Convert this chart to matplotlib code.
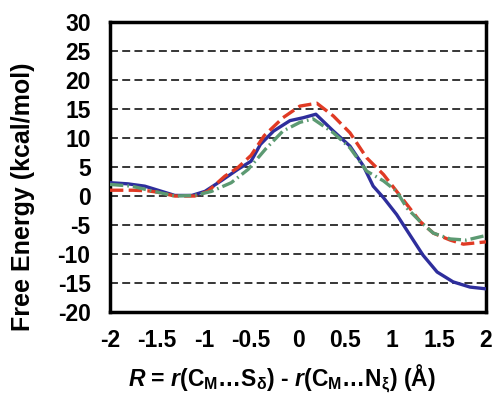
import numpy as np
import matplotlib
matplotlib.use("Agg")
import matplotlib.pyplot as plt

plt.rcParams['font.family'] = ['Liberation Sans', 'DejaVu Sans']
plt.rcParams['mathtext.fontset'] = 'custom'
plt.rcParams['mathtext.rm'] = 'Liberation Sans:bold'
plt.rcParams['mathtext.bf'] = 'Liberation Sans:bold'
plt.rcParams['mathtext.it'] = 'Liberation Sans:bold:italic'
plt.rcParams['axes.unicode_minus'] = False

# blue solid curve
x_blue = [-2, -1.81, -1.63, -1.45, -1.31, -1.13, -0.99, -0.82, -0.64, -0.5, -0.4, -0.26, -0.085, 0.056, 0.19,
          0.376, 0.553, 0.695, 0.8, 0.91, 1.05, 1.19, 1.33, 1.48, 1.65, 1.83, 2]
y_blue = [2.3, 2.1, 1.7, 0.8, 0.1, 0.1, 0.8, 2.6, 4.6, 6.0, 8.9, 11.2, 13.0, 13.5, 14.1,
          11.2, 8.6, 5.2, 1.7, -0.3, -3.2, -6.7, -10.2, -13.1, -14.8, -15.7, -16.0]

# red dashed curve
x_red = [-2, -1.76, -1.6, -1.49, -1.31, -1.1, -0.96, -0.78, -0.64, -0.5, -0.36, -0.16, 0.02, 0.2,
         0.376, 0.553, 0.73, 0.91, 1.05, 1.16, 1.3, 1.44, 1.62, 1.76, 2]
y_red = [1.0, 1.0, 0.9, 0.65, 0.0, 0.0, 0.8, 3.4, 4.9, 7.0, 10.4, 13.5, 15.5, 16.0,
         13.8, 10.9, 6.6, 3.7, 0.8, -1.5, -4.4, -6.4, -7.6, -8.3, -7.9]

# green dash-dot curve
x_green = [-2, -1.77, -1.56, -1.31, -1.1, -0.92, -0.71, -0.53, -0.34, -0.16, 0.02, 0.16,
           0.376, 0.553, 0.73, 0.91, 1.05, 1.16, 1.3, 1.44, 1.62, 1.79, 2]
y_green = [2.0, 1.7, 0.9, 0.0, 0.1, 0.8, 2.3, 4.6, 8.2, 11.2, 12.7, 13.3,
           10.9, 8.3, 4.3, 2.6, 0.8, -2.1, -4.4, -6.4, -7.4, -7.6, -6.8]

xticks = [-2, -1.5, -1, -0.5, 0, 0.5, 1, 1.5, 2]
xticklabels = ['-2', '-1.5', '-1', '-0.5', '0', '0.5', '1', '1.5', '2']
yticks = [-20, -15, -10, -5, 0, 5, 10, 15, 20, 25, 30]

fig = plt.figure(figsize=(4.94, 3.98), dpi=100)
ax = fig.add_axes([0.2227, 0.216, 0.7611, 0.7287])

for y in yticks[1:-1]:
    ax.axhline(y, color='black', lw=1.1, ls=(0, (5.2, 2.8)), zorder=1)

ax.plot(x_blue, y_blue, color='#2e2e9c', lw=2.4, zorder=3)
ax.plot(x_red, y_red, color='#e03a24', lw=2.4, ls=(0, (4, 1.6)), zorder=3)
ax.plot(x_green, y_green, color='#5c9a72', lw=2.4, ls=(0, (4, 1.2, 0.5, 1.2)), zorder=3)

ax.set_xlim(-2, 2)
ax.set_ylim(-20, 30)
ax.set_xticks(xticks)
ax.set_xticklabels(xticklabels)
ax.set_yticks(yticks)
ax.tick_params(length=0, labelsize=16.5)
ax.tick_params(axis='x', pad=12)
ax.tick_params(axis='y', pad=14)
for lab in ax.get_xticklabels() + ax.get_yticklabels():
    lab.set_fontweight('bold')
for sp in ax.spines.values():
    sp.set_linewidth(2.5)

ax.set_ylabel('Free Energy (kcal/mol)', fontsize=18, fontweight='bold', va='center')
ax.yaxis.set_label_coords(-0.231, 0.397)
ax.set_xlabel(r'$R$ = $r$(C$_\mathrm{M}$…S$_\mathrm{δ}$) - $r$(C$_\mathrm{M}$…N$_\mathrm{ξ}$) (Å)',
              fontsize=16.5, fontweight='bold', va='center')
ax.xaxis.set_label_coords(0.456, -0.232)

fig.savefig('out.png', dpi=100)
